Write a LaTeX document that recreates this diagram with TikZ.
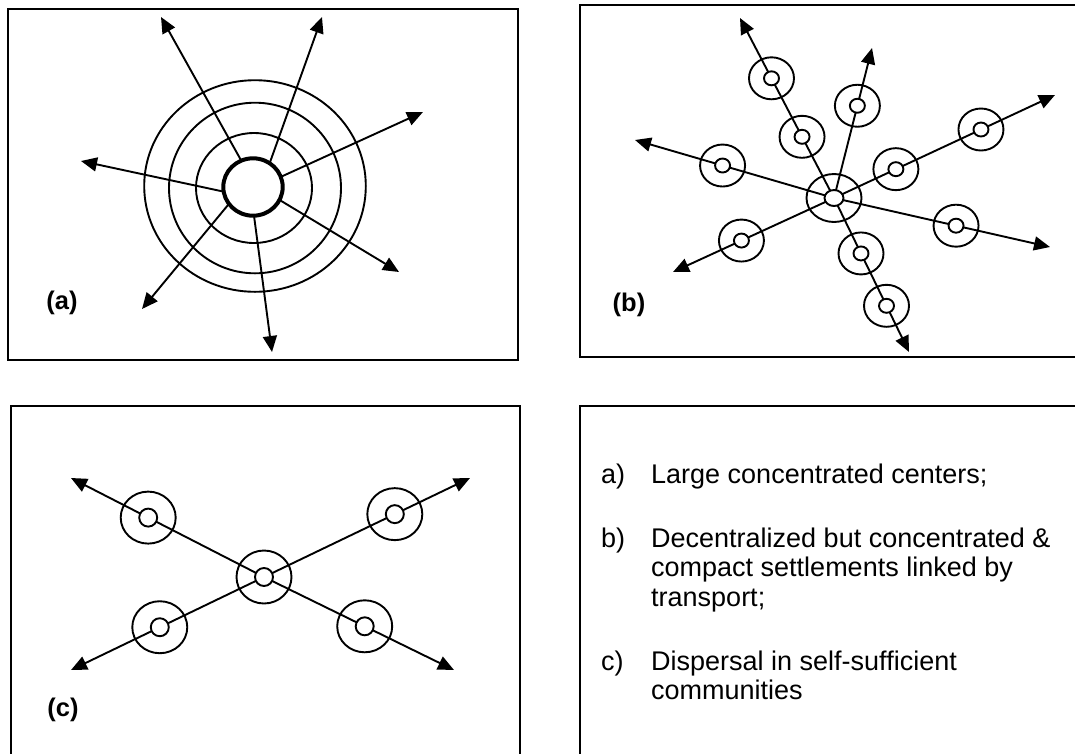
\documentclass[tikz,border=0pt]{standalone}
\usepackage{fontspec}
\setmainfont{Liberation Sans}
\usetikzlibrary{shapes.geometric,arrows.meta,calc}
\pgfdeclarelayer{bg}
\pgfsetlayers{bg,main}
\begin{document}
\begin{tikzpicture}[x=1pt,y=-1pt,
  frame/.style={draw,line width=2pt},
  arr/.style={line width=1.9pt,-{Triangle[length=16pt,width=14pt]}},
  ring/.style={ellipse,draw,line width=1.9pt,inner sep=0pt,outer sep=0pt},
  satout/.style={ring,minimum width=45pt,minimum height=42pt},
  satin/.style={ring,fill=white,minimum width=15pt,minimum height=14pt},
  csatout/.style={ring,minimum width=55pt,minimum height=52pt},
  csatin/.style={ring,fill=white,minimum width=18pt,minimum height=18pt},
  lab/.style={inner sep=0pt,font=\fontsize{25.5pt}{30pt}\selectfont\bfseries},
  txt/.style={inner sep=0pt,anchor=base west,font=\fontsize{27pt}{30pt}\selectfont}]
\useasboundingbox (0,0) rectangle (1075,753);
\clip (0,0) rectangle (1075,753);

% frames
\draw[frame] (8,9) rectangle (518,360);
\draw[frame] (580,5) rectangle (1090,357);
\draw[frame] (11,406) rectangle (520,770);
\draw[frame] (580,406) rectangle (1090,770);

% ---------------- panel (a)
\node[ring,minimum width=221.6pt,minimum height=211.6pt] (ar4) at (255,186) {};
\node[ring,minimum width=172pt,minimum height=170.6pt] (ar3) at (255,188) {};
\node[ring,minimum width=116pt,minimum height=110pt] (ar2) at (254,188) {};
\node[ring,line width=4pt,minimum width=59.4pt,minimum height=57.4pt] (ac) at (253,187) {};
\coordinate (at1) at (161,17);
\coordinate (at2) at (322,17);
\coordinate (at3) at (423,112);
\coordinate (at4) at (81,161);
\coordinate (at5) at (142,309);
\coordinate (at6) at (272,352);
\coordinate (at7) at (399,272);
\draw[arr] (ac.114) -- (at1);
\draw[arr] (ac.55) -- (at2);
\draw[arr] (ac.20) -- (at3);
\draw[arr] (ac.189) -- (at4);
\draw[arr] (ac.215) -- (at5);
\draw[arr] (ac.272) -- (at6);
\draw[arr] (ac.334) -- (at7);
\node[lab] (alab) at (62,303) {(a)};

% ---------------- panel (b)
\coordinate (bc) at (834,198);
\coordinate (bt1) at (740,18);
\coordinate (bt2) at (872,48);
\coordinate (bt3) at (1055,95);
\coordinate (bt4) at (635,140);
\coordinate (bt5) at (1050,247);
\coordinate (bt6) at (673,272);
\coordinate (bt7) at (909,352);
\node[ring,minimum width=55pt,minimum height=48pt] (bco) at (bc) {};
\node[ring,fill=white,minimum width=19pt,minimum height=16pt] (bci) at (bc) {};
\foreach \n/\t/\f in {1/bt1/0.665,2/bt1/0.34,3/bt2/0.615,4/bt4/0.56,5/bt3/0.28,
                      6/bt3/0.665,7/bt5/0.565,8/bt6/0.575,9/bt7/0.36,10/bt7/0.70}{
  \node[satout] (bs\n o) at ($(bc)!\f!(\t)$) {};
  \node[satin] (bs\n i) at ($(bc)!\f!(\t)$) {};
}
\begin{pgfonlayer}{bg}
\foreach \t in {bt1,bt2,bt3,bt4,bt5,bt6,bt7}{
  \draw[arr] (bci.center) -- (\t);
}
\end{pgfonlayer}
\node[lab] (blab) at (629,305) {(b)};

% ---------------- panel (c)
\coordinate (cc) at (264,577);
\coordinate (ct1) at (71,478);
\coordinate (ct2) at (470,478);
\coordinate (ct3) at (71,670);
\coordinate (ct4) at (454,670);
\node[ring,minimum width=55pt,minimum height=53pt] (cco) at (cc) {};
\node[csatin] (cci) at (cc) {};
\foreach \n/\t/\f in {1/ct1/0.60,2/ct2/0.635,3/ct3/0.54,4/ct4/0.53}{
  \node[csatout] (cs\n o) at ($(cc)!\f!(\t)$) {};
  \node[csatin] (cs\n i) at ($(cc)!\f!(\t)$) {};
}
\begin{pgfonlayer}{bg}
\foreach \t in {ct1,ct2,ct3,ct4}{
  \draw[arr] (cci.center) -- (\t);
}
\end{pgfonlayer}
\node[lab] (clab) at (63,710) {(c)};

% ---------------- panel (d) legend
\node[txt] (la) at (601,483) {a)};
\node[txt] (ta) at (651,483) {Large concentrated centers;};
\node[txt] (lb) at (601,547) {b)};
\node[txt] (tb1) at (651,547) {Decentralized but concentrated \&};
\node[txt] (tb2) at (651,576) {compact settlements linked by};
\node[txt] (tb3) at (651,606) {transport;};
\node[txt] (lc) at (601,670) {c)};
\node[txt] (tc1) at (651,670) {Dispersal in self-sufficient};
\node[txt] (tc2) at (651,699) {communities};
\end{tikzpicture}
\end{document}
